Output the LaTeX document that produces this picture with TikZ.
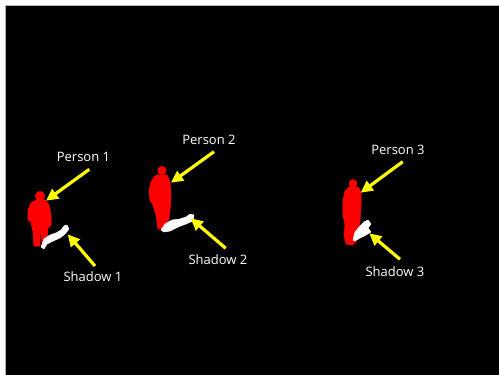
\documentclass[tikz,border=0pt]{standalone}
\usepackage{fontspec}
\setmainfont{Open Sans}
\usetikzlibrary{arrows.meta}
\definecolor{silhouette}{RGB}{255,0,0}
\definecolor{pointer}{RGB}{255,255,0}
\tikzset{
  label/.style={text=white, font=\fontsize{13}{15}\selectfont, inner sep=0pt},
  pointerline/.style={draw=pointer, line width=3.2pt,
    -{Triangle[length=12pt,width=11.5pt]}},
  person/.style={fill=silhouette, draw=silhouette, line width=0.6pt, line join=round},
  shade/.style={fill=white, draw=white, line width=0.5pt, line join=round},
}
\begin{document}
\begin{tikzpicture}[x=1pt, y=-1pt]
  % canvas
  \fill[white] (0,0) rectangle (499,375);
  \useasboundingbox (0,0) rectangle (499,375);
  \fill[black] (5,5) rectangle (499,375);
  \draw[gray!60, line width=0.6pt] (5,375) -- (5,5) -- (499,5);

  % ---- figure 1 ----
  \fill[person] (40,196) circle (4.6);
  \filldraw[person] (36,200) -- (45,200) -- (49,205) -- (51,215) -- (51,225) -- (48,228)
    -- (47,240) -- (44,243) -- (42,243) -- (41,232) -- (40,234) -- (40,246) -- (34,246)
    -- (33,232) -- (31,222) -- (28,220) -- (28,210) -- (31,203) -- cycle;
  \filldraw[shade] (41,247) -- (44,239) -- (50,235) -- (56,233) -- (61,230) -- (64,226)
    -- (67,225) -- (69,229) -- (65,234) -- (60,238) -- (53,241) -- (47,244) -- (44,249) -- cycle;

  % ---- figure 2 ----
  \fill[person] (162,170.5) circle (4.2);
  \filldraw[person] (157,175) -- (167,175) -- (170,182) -- (171,195) -- (170,210) -- (168,225)
    -- (166,229) -- (158,229) -- (156,215) -- (153,205) -- (150,200) -- (149,190)
    -- (151,182) -- (154,177) -- cycle;
  \filldraw[shade] (161,230) -- (165,224) -- (172,220) -- (180,219) -- (186,217) -- (190,214)
    -- (194,215) -- (193,221) -- (186,224) -- (178,227) -- (170,231) -- (164,232) -- cycle;

  % ---- figure 3 ----
  \fill[person] (353,183.5) circle (3.9);
  \filldraw[person] (349,187) -- (358,187) -- (361,192) -- (361,205) -- (360,220) -- (358,235)
    -- (356,242) -- (352,245) -- (346,244) -- (344,235) -- (345,225) -- (343,215)
    -- (343,200) -- (345,191) -- cycle;
  \filldraw[shade] (353,240) -- (355,232) -- (360,226) -- (364,222) -- (368,220) -- (371,224)
    -- (368,228) -- (371,232) -- (366,235) -- (360,238) -- (355,241) -- cycle;

  % ---- labels ----
  \node[label] (p1) at (83.5,157) {Person 1};
  \node[label] (s1) at (93,277) {Shadow 1};
  \node[label] (p2) at (209,140) {Person 2};
  \node[label] (s2) at (218,260) {Shadow 2};
  \node[label] (p3) at (398,150) {Person 3};
  \node[label] (s3) at (395,272) {Shadow 3};

  % ---- pointer ends ----
  \coordinate (p1t) at (89.3,169.3);  \coordinate (p1h) at (46,200.7);
  \coordinate (s1t) at (95,266);      \coordinate (s1h) at (67.7,234.3);
  \coordinate (p2t) at (214,151.7);   \coordinate (p2h) at (171,182.7);
  \coordinate (s2t) at (225.7,248.3); \coordinate (s2h) at (190.7,218.3);
  \coordinate (p3t) at (402.7,161.7); \coordinate (p3h) at (360.7,192.7);
  \coordinate (s3t) at (400,259.3);   \coordinate (s3h) at (369.3,233.3);

  % ---- pointers ----
  \draw[pointerline] (p1t) -- (p1h);
  \draw[pointerline] (s1t) -- (s1h);
  \draw[pointerline] (p2t) -- (p2h);
  \draw[pointerline] (s2t) -- (s2h);
  \draw[pointerline] (p3t) -- (p3h);
  \draw[pointerline] (s3t) -- (s3h);
\end{tikzpicture}
\end{document}
